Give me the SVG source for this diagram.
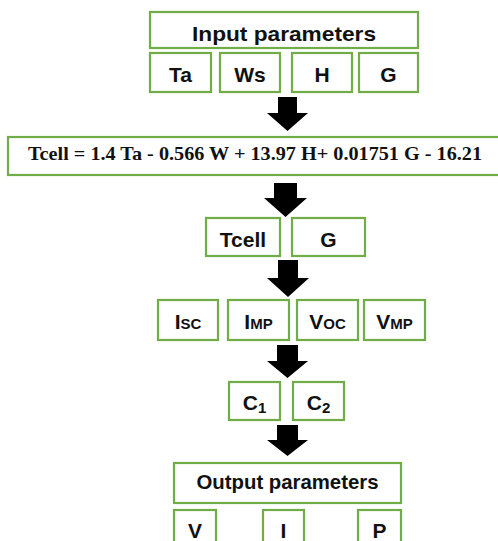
<svg xmlns="http://www.w3.org/2000/svg" width="498" height="541" viewBox="0 0 498 541">
<style>
.box{fill:#fff;stroke:#70AD47;stroke-width:2.2}
.t{font-family:"Liberation Sans",Arial,sans-serif;font-weight:bold;font-size:21px;fill:#111;text-anchor:middle}
.eq{font-family:"Liberation Serif","Times New Roman",serif;font-weight:bold;font-size:19px;fill:#111;text-anchor:middle}
.arr{fill:#000}
</style>
<rect width="498" height="541" fill="#fff"/>
<g id="input">
<rect class="box" x="150" y="12" width="268" height="36"/>
<text class="t" x="284" y="41" textLength="184" lengthAdjust="spacingAndGlyphs">Input parameters</text>
</g>
<g id="ta"><rect class="box" x="150" y="53" width="61" height="39"/><text class="t" x="180.5" y="82">Ta</text></g>
<g id="ws"><rect class="box" x="220" y="53" width="60" height="39"/><text class="t" x="250" y="82">Ws</text></g>
<g id="h"><rect class="box" x="292" y="53" width="60" height="39"/><text class="t" x="322" y="82">H</text></g>
<g id="g1"><rect class="box" x="359" y="53" width="59" height="39"/><text class="t" x="388.5" y="82">G</text></g>
<g id="equation">
<rect class="box" x="8" y="137" width="492" height="38"/>
<text class="eq" x="255" y="160" textLength="454" lengthAdjust="spacingAndGlyphs">Tcell = 1.4 Ta - 0.566 W + 13.97 H+ 0.01751 G - 16.21</text>
</g>
<g id="tcell"><rect class="box" x="206" y="218" width="74" height="38"/><text class="t" x="243" y="247">Tcell</text></g>
<g id="g2"><rect class="box" x="292" y="218" width="73" height="38"/><text class="t" x="328.5" y="247">G</text></g>
<g id="isc"><rect class="box" x="158" y="300" width="60" height="40"/><text class="t" x="188" y="329">I<tspan font-size="15">SC</tspan></text></g>
<g id="imp"><rect class="box" x="228" y="300" width="61" height="40"/><text class="t" x="258.5" y="329">I<tspan font-size="15">MP</tspan></text></g>
<g id="voc"><rect class="box" x="297" y="300" width="61" height="40"/><text class="t" x="327.5" y="329">V<tspan font-size="15">OC</tspan></text></g>
<g id="vmp"><rect class="box" x="364" y="300" width="61" height="40"/><text class="t" x="394.5" y="329">V<tspan font-size="15">MP</tspan></text></g>
<g id="c1"><rect class="box" x="229" y="382" width="51" height="38"/><text class="t" x="254.5" y="410">C<tspan font-size="15" dy="3">1</tspan></text></g>
<g id="c2"><rect class="box" x="293" y="382" width="51" height="38"/><text class="t" x="318.5" y="410">C<tspan font-size="15" dy="3">2</tspan></text></g>
<g id="output">
<rect class="box" x="174" y="463" width="227" height="40"/>
<text class="t" x="287.5" y="489" textLength="182" lengthAdjust="spacingAndGlyphs">Output parameters</text>
</g>
<g id="v"><rect class="box" x="174" y="510" width="42" height="40"/><text class="t" x="195" y="538">V</text></g>
<g id="i"><rect class="box" x="263" y="510" width="41" height="40"/><text class="t" x="283.5" y="538">I</text></g>
<g id="p"><rect class="box" x="358" y="510" width="43" height="40"/><text class="t" x="379.5" y="538">P</text></g>
<g id="connectors">
<polygon class="arr" points="278,97 297,97 297,113 308,113 287.5,131 267,113 278,113"/>
<polygon class="arr" points="274,183 297,183 297,198 307,198 285.5,217 264,198 274,198"/>
<polygon class="arr" points="278,260 298,260 298,278 309,278 288,297 267,278 278,278"/>
<polygon class="arr" points="277,345 298,345 298,361 308,361 287.5,378 267,361 277,361"/>
<polygon class="arr" points="277,425 298,425 298,440 308,440 287.5,456 267,440 277,440"/>
</g>
</svg>
